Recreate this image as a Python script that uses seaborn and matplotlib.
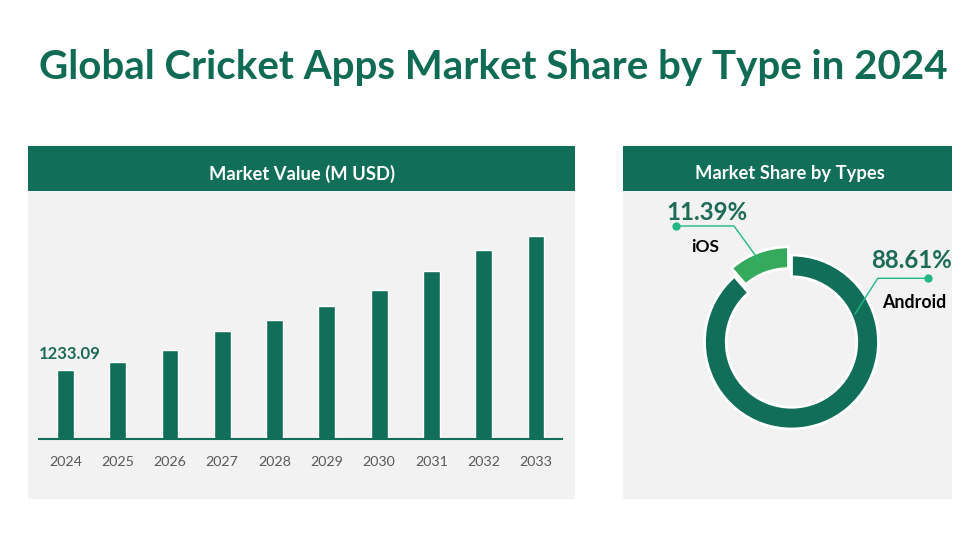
import matplotlib
matplotlib.use("Agg")
import matplotlib.pyplot as plt
import matplotlib.patches as mpatches
import matplotlib.lines as mlines
import numpy as np
import pandas as pd
import seaborn as sns

# ---------------- data ----------------
years = ["2024", "2025", "2026", "2027", "2028", "2029", "2030", "2031", "2032", "2033"]
market_values = [1233.09, 1376.0, 1590.5, 1930.1, 2126.6, 2376.8, 2662.8, 3002.3, 3377.6, 3627.8]
share_labels = ["Android", "iOS"]
share_values = [88.61, 11.39]

title = "Global Cricket Apps Market Share by Type in 2024"
left_header = "Market Value (M USD)"
right_header = "Market Share by Types"

# ---------------- style ----------------
sns.set_style("white")
plt.rcParams["font.family"] = ["Lato", "DejaVu Sans"]

DARK = "#116f59"
LIGHT = "#36aa5c"
PANEL = "#f2f2f2"
LEADER = "#22b884"
TEXTGREEN = "#1d6b57"

W, H = 972, 537
fig = plt.figure(figsize=(W / 100, H / 100), dpi=100)
fig.patch.set_facecolor("white")


def fx(x):
    return x / W


def fy(y):
    return 1 - y / H


def rect_px(x0, y0, x1, y1, color):
    fig.add_artist(mpatches.Rectangle((fx(x0), fy(y1)), fx(x1) - fx(x0), fy(y0) - fy(y1),
                                      transform=fig.transFigure, facecolor=color,
                                      edgecolor="none", zorder=0))


# panels
rect_px(28, 146, 575, 499, PANEL)
rect_px(28, 146, 575, 191, DARK)
rect_px(623, 146, 952, 499, PANEL)
rect_px(623, 146, 952, 191, DARK)

fig.text(fx(493), fy(79), title, ha="center", va="baseline", fontsize=29,
         fontweight="bold", color="#0f6b53")
fig.text(fx(302), fy(174), left_header, ha="center", va="center", fontsize=13.2,
         fontweight="bold", color="white")
fig.text(fx(790), fy(174), right_header, ha="center", va="center", fontsize=13.2,
         fontweight="bold", color="white")

# ---------------- bar chart ----------------
ax_l, ax_r, ax_b, ax_t = 39.2, 562.2, 439.3, 200.0
ax = fig.add_axes([fx(ax_l), fy(ax_b), fx(ax_r) - fx(ax_l), fy(ax_t) - fy(ax_b)])
ax.set_facecolor("none")
df = pd.DataFrame({"year": years, "value": market_values})
sns.barplot(data=df, x="year", y="value", color=DARK, width=0.32, saturation=1,
            ax=ax, zorder=2)
# scale such that the first bar spans ~69 px
px_per_unit = 69.0 / market_values[0]
ax.set_ylim(0, (ax_b - ax_t) / px_per_unit)
ax.set_xlim(-0.5, len(years) - 0.5)
for s in ["top", "right", "left"]:
    ax.spines[s].set_visible(False)
ax.spines["bottom"].set_color(DARK)
ax.spines["bottom"].set_linewidth(1.5)
ax.set_yticks([])
ax.set_xlabel("")
ax.set_ylabel("")
ax.tick_params(axis="x", length=0, pad=12, labelsize=10.3, labelcolor="#595959")
ax.annotate(f"{market_values[0]:.2f}", xy=(0, market_values[0]), xytext=(3, 6),
            textcoords="offset points", ha="center", va="bottom", fontsize=12,
            fontweight="bold", color=TEXTGREEN)

# ---------------- donut ----------------
cx, cy, R = 791.5, 342.0, 87.0
side = 260.0
axp = fig.add_axes([fx(cx - side / 2), fy(cy + side / 2), side / W, side / H])
axp.set_facecolor("none")
wedges, _ = axp.pie(share_values, startangle=90, counterclock=False,
                    colors=[DARK, LIGHT], explode=[0, 0.1], radius=1.0,
                    wedgeprops=dict(width=0.25, edgecolor="white", linewidth=2))
lim = side / 2 / R
axp.set_xlim(-lim, lim)
axp.set_ylim(-lim, lim)
axp.set_aspect("equal")
axp.axis("off")

# annotations (figure pixel positions)
def leader(points, dot):
    xs = [fx(p[0]) for p in points]
    ys = [fy(p[1]) for p in points]
    fig.add_artist(mlines.Line2D(xs, ys, color=LEADER, lw=1.0, transform=fig.transFigure, zorder=5))
    fig.add_artist(mlines.Line2D([fx(dot[0])], [fy(dot[1])], marker="o", ms=5, color=LEADER,
                                 transform=fig.transFigure, zorder=5))

leader([(675.7, 226), (734, 226), (760, 261.7)], (675.7, 226))
leader([(928.3, 278.3), (877.7, 278.3), (855, 314)], (928.3, 278.3))

fig.text(fx(707), fy(212), f"{share_values[1]:.2f}%", ha="center", va="center",
         fontsize=17.3, fontweight="bold", color=TEXTGREEN)
fig.text(fx(705), fy(247), share_labels[1], ha="center", va="center",
         fontsize=12.5, fontweight="bold", color="black")
fig.text(fx(911), fy(261), f"{share_values[0]:.2f}%", ha="center", va="center",
         fontsize=17.3, fontweight="bold", color=TEXTGREEN)
fig.text(fx(914), fy(303), share_labels[0], ha="center", va="center",
         fontsize=12.8, fontweight="bold", color="black")

fig.savefig("out.png", dpi=100, facecolor="white")
